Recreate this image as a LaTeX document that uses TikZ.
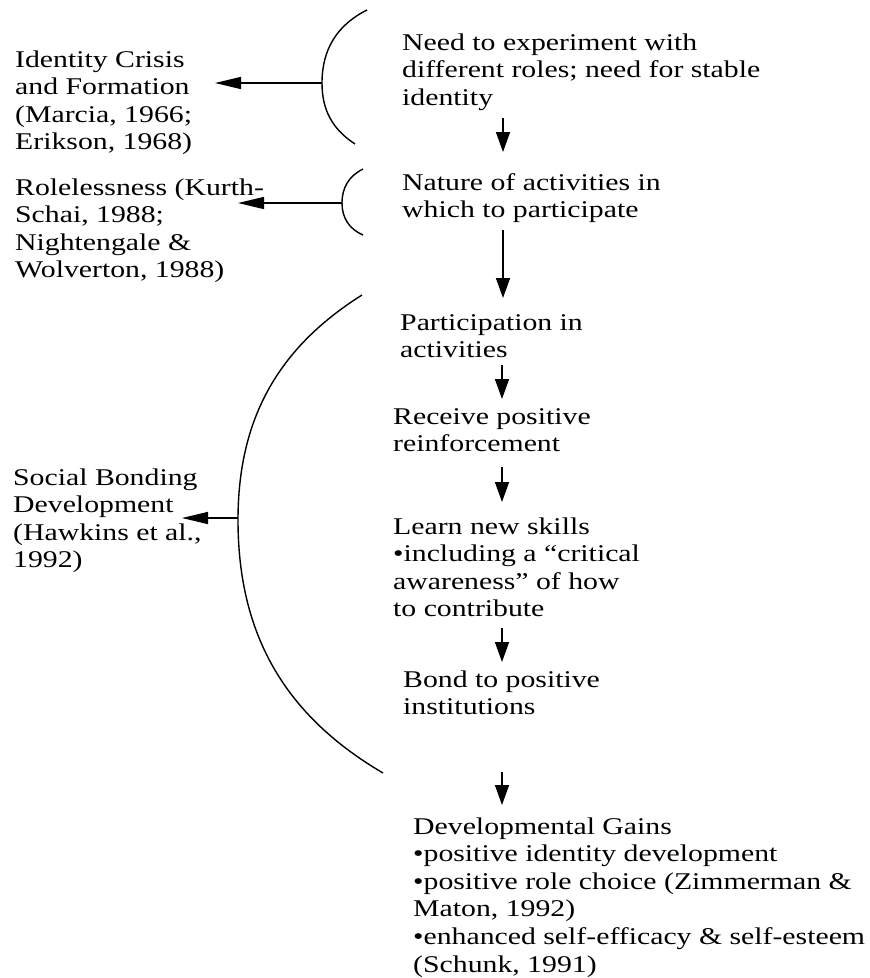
\documentclass[tikz,border=0pt]{standalone}
\usepackage{fontspec}
\setmainfont{Liberation Serif}[FakeStretch=1.24]
\usetikzlibrary{arrows.meta}
\begin{document}
\begin{tikzpicture}[x=1pt,y=-1pt,
  txt/.style={anchor=base west, align=left, inner sep=0pt, font=\fontsize{24}{27.6}\selectfont},
  varr/.style={-{Triangle[length=20pt,width=14pt]}, line width=1.5pt},
  harr/.style={-{Triangle[length=26pt,width=12pt]}, line width=1.5pt},
  brk/.style={line width=1.4pt}]
\useasboundingbox (0,0) rectangle (870,978);

% right column (positions are the baselines of the last lines)
\node[txt] (need) at (402,105.2) {Need to experiment with\\different roles; need for stable\\identity};
\node[txt] (nature) at (402,217.6) {Nature of activities in\\which to participate};
\node[txt] (partic) at (400,357.6) {Participation in\\activities};
\node[txt] (receive) at (393,451.6) {Receive positive\\reinforcement};
\node[txt] (learn) at (393,616.8) {Learn new skills\\•including a ``critical\\awareness'' of how\\to contribute};
\node[txt] (bond) at (403,714.6) {Bond to positive\\institutions};
\node[txt] (gains) at (413,972) {Developmental Gains\\•positive identity development\\•positive role choice (Zimmerman \&\\Maton, 1992)\\•enhanced self-efficacy \& self-esteem\\(Schunk, 1991)};

% left column
\node[txt] (ident) at (15,149.8) {Identity Crisis\\and Formation\\(Marcia, 1966;\\Erikson, 1968)};
\node[txt] (role) at (15,277.8) {Rolelessness (Kurth-\\Schai, 1988;\\Nightengale \&\\Wolverton, 1988)};
\node[txt] (social) at (13,567.8) {Social Bonding\\Development\\(Hawkins et al.,\\1992)};

% brackets
\coordinate (b1t) at (367,10);  \coordinate (b1l) at (322,83);  \coordinate (b1b) at (355,144);
\coordinate (b2t) at (363,169); \coordinate (b2l) at (342,203); \coordinate (b2b) at (363,235);
\coordinate (b3t) at (362,295); \coordinate (b3l) at (238,520); \coordinate (b3b) at (383,773);
\draw[brk] (b1t) to[out=206.6,in=90] (b1l) to[out=-90,in=146.8] (b1b);
\draw[brk] (b2t) to[out=206.7,in=90] (b2l) to[out=-90,in=156.6] (b2b);
\draw[brk] (b3t) to[out=212.2,in=90] (b3l) to[out=-90,in=149.6] (b3b);

% left arrows
\coordinate (t1) at (215,83);
\coordinate (t2) at (238,203);
\coordinate (t3) at (182,518);
\draw[harr] (b1l) -- (t1);
\draw[harr] (b2l) -- (t2);
\draw[harr] (b3l |- t3) -- (t3);

% vertical arrows
\coordinate (a1s) at (503,118); \coordinate (a1e) at (503,152);
\coordinate (a2s) at (503,230); \coordinate (a2e) at (503,298);
\coordinate (a3s) at (502,365); \coordinate (a3e) at (502,399);
\coordinate (a4s) at (502,467); \coordinate (a4e) at (502,502);
\coordinate (a5s) at (502,628); \coordinate (a5e) at (502,662);
\coordinate (a6s) at (502,772); \coordinate (a6e) at (502,805);
\draw[varr] (a1s) -- (a1e);
\draw[varr] (a2s) -- (a2e);
\draw[varr] (a3s) -- (a3e);
\draw[varr] (a4s) -- (a4e);
\draw[varr] (a5s) -- (a5e);
\draw[varr] (a6s) -- (a6e);
\end{tikzpicture}
\end{document}
